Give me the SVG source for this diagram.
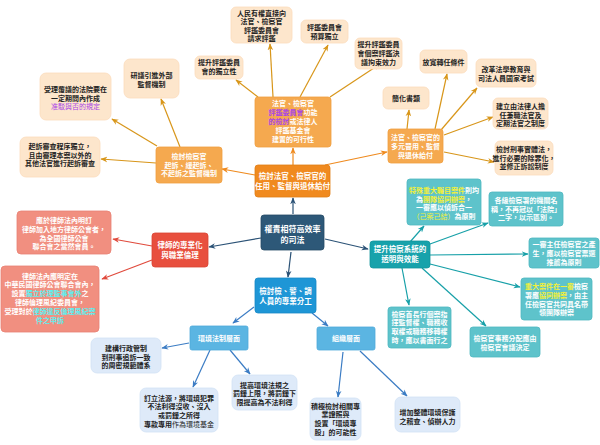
<svg xmlns="http://www.w3.org/2000/svg" width="600" height="445" viewBox="0 0 600 445">
<defs>
<style>
text{font-family:"Noto Sans CJK TC","Noto Sans CJK SC",sans-serif;font-size:7px;text-anchor:middle;font-weight:bold}
.w{fill:#fff}
.d{fill:#222}
.big{font-size:8px}
.mid{font-size:7.5px}
.peach{fill:#fde6cc;stroke:#fbdcbc;stroke-width:0.8}
.lor{fill:#f5a94f;stroke:#f0a040;stroke-width:0.8}
.or{fill:#f08a1f;stroke:#e07d15;stroke-width:0.8}
.red{fill:#e84f3e;stroke:#d94434;stroke-width:0.8}
.sal{fill:#f18f80;stroke:#e98273;stroke-width:0.8}
.teal{fill:#17a2ab;stroke:#12959d;stroke-width:0.8}
.tl{fill:#5ec3cb;stroke:#4fb7c0;stroke-width:0.8}
.blue{fill:#1e96d6;stroke:#1889c6;stroke-width:0.8}
.bs{fill:#5bb5e2;stroke:#4faada;stroke-width:0.8}
.lb{fill:#deeaf9;stroke:#d2e2f5;stroke-width:0.8}
.cen{fill:#2d5878;stroke:#244a66;stroke-width:0.8}
.pu{fill:#a845e6}
.cy{fill:#5ff0f0}
.ye{fill:#f2f03a}
.e{fill:none;stroke-width:1.2}
.en{stroke:#2b5276}
.eo{stroke:#ef8a1e}
.eg{stroke:#d8961a}
.er{stroke:#e04a3c}
.et{stroke:#17a0a8}
.eb{stroke:#3b7cc4}
</style>
<marker id="mn" viewBox="0 0 10 10" refX="9" refY="5" markerWidth="7" markerHeight="7" markerUnits="userSpaceOnUse" orient="auto"><path d="M0,1 L10,5 L0,9 L3,5 z" fill="#2b5276"/></marker>
<marker id="mo" viewBox="0 0 10 10" refX="9" refY="5" markerWidth="7" markerHeight="7" markerUnits="userSpaceOnUse" orient="auto"><path d="M0,1 L10,5 L0,9 L3,5 z" fill="#ef8a1e"/></marker>
<marker id="mg" viewBox="0 0 10 10" refX="9" refY="5" markerWidth="7" markerHeight="7" markerUnits="userSpaceOnUse" orient="auto"><path d="M0,1 L10,5 L0,9 L3,5 z" fill="#d8961a"/></marker>
<marker id="mr" viewBox="0 0 10 10" refX="9" refY="5" markerWidth="7" markerHeight="7" markerUnits="userSpaceOnUse" orient="auto"><path d="M0,1 L10,5 L0,9 L3,5 z" fill="#e04a3c"/></marker>
<marker id="mt" viewBox="0 0 10 10" refX="9" refY="5" markerWidth="7" markerHeight="7" markerUnits="userSpaceOnUse" orient="auto"><path d="M0,1 L10,5 L0,9 L3,5 z" fill="#17a0a8"/></marker>
<marker id="mb" viewBox="0 0 10 10" refX="9" refY="5" markerWidth="7" markerHeight="7" markerUnits="userSpaceOnUse" orient="auto"><path d="M0,1 L10,5 L0,9 L3,5 z" fill="#3b7cc4"/></marker>
</defs>
<rect width="600" height="445" fill="#fff"/>

<g id="connectors">
<path class="e en" d="M293,214 L293,198" marker-end="url(#mn)"/>
<path class="e en" d="M261,238 L209,247" marker-end="url(#mn)"/>
<path class="e en" d="M325,239 L368,249" marker-end="url(#mn)"/>
<path class="e en" d="M291,252 L288,277" marker-end="url(#mn)"/>
<path class="e eo" d="M255,175 L222,169" marker-end="url(#mo)"/>
<path class="e eo" d="M293,165 L293,148" marker-end="url(#mo)"/>
<path class="e eo" d="M325,165 L387,152" marker-end="url(#mo)"/>
<path class="e eg" d="M258,97 L236,80" marker-end="url(#mg)"/>
<path class="e eg" d="M273,97 L270,44" marker-end="url(#mg)"/>
<path class="e eg" d="M300,97 L328,45" marker-end="url(#mg)"/>
<path class="e eg" d="M330,97 L380,64" marker-end="url(#mg)"/>
<path class="e eg" d="M157,146 L112,119" marker-end="url(#mg)"/>
<path class="e eg" d="M180,147 L161,99" marker-end="url(#mg)"/>
<path class="e eg" d="M156,163 L101,159" marker-end="url(#mg)"/>
<path class="e eg" d="M407,129 L409,110" marker-end="url(#mg)"/>
<path class="e eg" d="M435,129 L447,74" marker-end="url(#mg)"/>
<path class="e eg" d="M441,130 L477,88" marker-end="url(#mg)"/>
<path class="e eg" d="M444,135 L493,117" marker-end="url(#mg)"/>
<path class="e eg" d="M444,152 L494,162" marker-end="url(#mg)"/>
<path class="e er" d="M152,246 L113,239" marker-end="url(#mr)"/>
<path class="e er" d="M152,260 L102,279" marker-end="url(#mr)"/>
<path class="e et" d="M410,242 L424,226" marker-end="url(#mt)"/>
<path class="e et" d="M430,244 L488,223" marker-end="url(#mt)"/>
<path class="e et" d="M430,255 L528,254" marker-end="url(#mt)"/>
<path class="e et" d="M430,264 L520,287" marker-end="url(#mt)"/>
<path class="e et" d="M402,268 L409,305" marker-end="url(#mt)"/>
<path class="e et" d="M422,268 L486,326" marker-end="url(#mt)"/>
<path class="e eb" d="M254,307 L233,323" marker-end="url(#mb)"/>
<path class="e eb" d="M312,313 L328,326" marker-end="url(#mb)"/>
<path class="e eb" d="M189,343 L162,348" marker-end="url(#mb)"/>
<path class="e eb" d="M210,350 L193,387" marker-end="url(#mb)"/>
<path class="e eb" d="M230,350 L250,374" marker-end="url(#mb)"/>
<path class="e eb" d="M343,352 L338,397" marker-end="url(#mb)"/>
<path class="e eb" d="M360,351 L407,396" marker-end="url(#mb)"/>
</g>

<g id="central"><rect class="cen" x="261" y="215" width="63" height="35" rx="3"/>
<text class="w big" x="292.5" y="232">權責相符高效率</text><text class="w big" x="292.5" y="243">的司法</text></g>

<g id="orange-main"><rect class="or" x="255" y="165" width="75" height="32" rx="3"/>
<text class="w mid" x="292.5" y="179">檢討法官、檢察官的</text><text class="w mid" x="292.5" y="189">任用、監督與退休給付</text></g>

<g id="red-main"><rect class="red" x="152" y="233" width="56" height="34" rx="3"/>
<text class="w mid" x="180" y="248">律師的專業化</text><text class="w mid" x="180" y="258">與職業倫理</text></g>

<g id="teal-main"><rect class="teal" x="370" y="241" width="60" height="27" rx="3"/>
<text class="w mid" x="400" y="252">提升檢察系統的</text><text class="w mid" x="400" y="262">透明與效能</text></g>

<g id="blue-main"><rect class="blue" x="255" y="278" width="61" height="35" rx="3"/>
<text class="w mid" x="285.5" y="294">檢討檢、警、調</text><text class="w mid" x="285.5" y="304">人員的專業分工</text></g>

<g id="prosecutor-oversight"><rect class="lor" x="156" y="147" width="66" height="36" rx="3"/>
<text class="w" x="189" y="159">檢討檢察官</text><text class="w" x="189" y="167.5">起訴、緩起訴、</text><text class="w" x="189" y="176">不起訴之監督機制</text></g>

<g id="evaluation"><rect class="lor" x="255" y="97" width="76" height="50" rx="3"/>
<text class="w" x="293" y="106">法官、檢察官</text>
<text x="293" y="115"><tspan class="pu">評鑑委員會</tspan><tspan class="w">功能</tspan></text>
<text x="293" y="124"><tspan class="pu">的檢討</tspan><tspan class="w">或法律人</tspan></text>
<text class="w" x="293" y="133">評鑑基金會</text><text class="w" x="293" y="142">建置的可行性</text></g>

<g id="recruitment"><rect class="lor" x="388" y="129" width="55" height="34" rx="3"/>
<text class="w" x="415.5" y="140">法官、檢察官的</text><text class="w" x="415.5" y="149">多元晉用、監督</text><text class="w" x="415.5" y="158">與退休給付</text></g>

<g id="leaf-review"><rect class="peach" x="40" y="73" width="71" height="47" rx="6"/>
<text class="d" x="75.5" y="92">受理覆議的法院要在</text><text class="d" x="75.5" y="100.5">一定期間內作成</text><text class="pu" x="75.5" y="109" style="font-weight:normal">准駁與否的規定</text></g>

<g id="leaf-external"><rect class="peach" x="124" y="59" width="55" height="39" rx="6"/>
<text class="d" x="151.5" y="78">研議引進外部</text><text class="d" x="151.5" y="86.5">監督機制</text></g>

<g id="leaf-indictment"><rect class="peach" x="20" y="137" width="80" height="40" rx="6"/>
<text class="d" x="60" y="149">起訴審查程序獨立，</text><text class="d" x="60" y="157.5">且由審理本案以外的</text><text class="d" x="60" y="166">其他法官進行起訴審查</text></g>

<g id="leaf-indep"><rect class="peach" x="195" y="56" width="48" height="23" rx="5"/>
<text class="d" x="219" y="65">提升評鑑委員</text><text class="d" x="219" y="74">會的獨立性</text></g>

<g id="leaf-people"><rect class="peach" x="231" y="7" width="61" height="36" rx="5"/>
<text class="d" x="261.5" y="15.5">人民有權直接向</text><text class="d" x="261.5" y="24">法官、檢察官</text><text class="d" x="261.5" y="32.6">評鑑委員會</text><text class="d" x="261.5" y="41.2">請求評鑑</text></g>

<g id="leaf-budget"><rect class="peach" x="301" y="20" width="47" height="23" rx="5"/>
<text class="d" x="324.5" y="30">評鑑委員會</text><text class="d" x="324.5" y="38.5">預算獨立</text></g>

<g id="leaf-binding"><rect class="peach" x="355" y="38" width="47" height="31" rx="5"/>
<text class="d" x="378.5" y="47">提升評鑑委員</text><text class="d" x="378.5" y="56">會個案評鑑決</text><text class="d" x="378.5" y="65">議拘束效力</text></g>

<g id="leaf-simplify"><rect class="peach" x="383" y="87" width="46" height="22" rx="5"/>
<text class="d" x="406" y="100.5">簡化書類</text></g>

<g id="leaf-transfer"><rect class="peach" x="420" y="50" width="47" height="23" rx="5"/>
<text class="d" x="443.5" y="64.5">放寬轉任條件</text></g>

<g id="leaf-education"><rect class="peach" x="476" y="59" width="60" height="28" rx="5"/>
<text class="d" x="506" y="72">改革法學教育與</text><text class="d" x="506" y="81">司法人員國家考試</text></g>

<g id="leaf-parttime"><rect class="peach" x="493" y="98" width="55" height="31" rx="5"/>
<text class="d" x="520.5" y="109">建立由法律人擔</text><text class="d" x="520.5" y="117.5">任兼職法官及</text><text class="d" x="520.5" y="126">定期法官之制度</text></g>

<g id="leaf-criminal"><rect class="peach" x="495" y="141" width="58" height="34" rx="5"/>
<text class="d" x="524" y="152">檢討刑事實體法，</text><text class="d" x="524" y="160.5">進行必要的除罪化，</text><text class="d" x="524" y="169">並修正訴訟制度</text></g>

<g id="leaf-bar-member"><rect class="sal" x="17" y="211" width="94" height="43" rx="4"/>
<text class="w" x="64" y="223">應於律師法內明訂</text><text class="w" x="64" y="232">律師加入地方律師公會者，</text><text class="w" x="64" y="240.7">為全國律師公會</text><text class="w" x="64" y="249.4">聯合會之當然會員。</text></g>

<g id="leaf-bar-ethics"><rect class="sal" x="1" y="266" width="98" height="66" rx="4"/>
<text class="w" x="50" y="278.5">律師法內應明定在</text><text class="w" x="50" y="287.3">中華民國律師公會聯合會內，</text>
<text x="50" y="296.1"><tspan class="w">設置</tspan><tspan class="cy">獨立於理監事會外</tspan><tspan class="w">之</tspan></text>
<text class="w" x="50" y="304.9">律師倫理風紀委員會，</text>
<text x="50" y="313.7"><tspan class="w">受理對於</tspan><tspan class="cy">律師違反倫理風紀案</tspan></text>
<text class="cy" x="50" y="322.5">件之申訴</text></g>

<g id="leaf-team"><rect class="tl" x="407" y="179" width="74" height="46" rx="3"/>
<text x="444" y="193"><tspan class="ye">特殊重大矚目案件</tspan><tspan class="w">則均</tspan></text>
<text x="444" y="201.6"><tspan class="w">為</tspan><tspan class="ye">團隊協同辦案</tspan><tspan class="w">，</tspan></text>
<text class="w" x="444" y="210.2">一審應以偵訴合一</text>
<text x="444" y="219"><tspan class="ye" style="font-weight:normal">（己案己結）</tspan><tspan class="w">為原則</tspan></text></g>

<g id="leaf-name"><rect class="tl" x="489" y="192" width="74" height="34" rx="3"/>
<text class="w" x="526" y="203">各級檢察署的機關名</text><text class="w" x="526" y="211.6">稱，不再冠以「法院」</text><text class="w" x="526" y="220.2">二字，以示區別。</text></g>

<g id="leaf-chief"><rect class="tl" x="529" y="238" width="70" height="30" rx="3"/>
<text class="w" x="564" y="247">一審主任檢察官之產</text><text class="w" x="564" y="256">生，應以檢察官票選</text><text class="w" x="564" y="265">推薦為原則</text></g>

<g id="leaf-major"><rect class="tl" x="521" y="278" width="71" height="42" rx="3"/>
<text x="556.5" y="289"><tspan class="ye">重大案件在一審</tspan><tspan class="w">檢察</tspan></text>
<text x="556.5" y="297.8"><tspan class="w">署應</tspan><tspan class="ye">協同辦案</tspan><tspan class="w">，由主</tspan></text>
<text class="w" x="556.5" y="306.6">任檢察官共同具名帶</text><text class="w" x="556.5" y="315.4">領團隊辦案</text></g>

<g id="leaf-written"><rect class="tl" x="388" y="307" width="63" height="41" rx="3"/>
<text class="w" x="419.5" y="316.5">檢察首長行個案指</text><text class="w" x="419.5" y="325.2">揮監督權、職務收</text><text class="w" x="419.5" y="333.9">取權或職務移轉權</text><text class="w" x="419.5" y="342.6">時，應以書面行之</text></g>

<g id="leaf-assign"><rect class="tl" x="470" y="327" width="70" height="30" rx="3"/>
<text class="w" x="505" y="341">檢察官事務分配應由</text><text class="w" x="505" y="350">檢察官會議決定</text></g>

<g id="env-law"><rect class="bs" x="190" y="326" width="58" height="24" rx="2"/>
<text class="w" x="219" y="341">環境法制層面</text></g>

<g id="org"><rect class="bs" x="317" y="327" width="58" height="23" rx="2"/>
<text class="w" x="346" y="341">組織層面</text></g>

<g id="leaf-system"><rect class="lb" x="91" y="338" width="70" height="35" rx="6"/>
<text class="d" x="126" y="351">建構行政管制</text><text class="d" x="126" y="359.6">到刑事追訴一致</text><text class="d" x="126" y="368.2">的周密規範體系</text></g>

<g id="leaf-fund"><rect class="lb" x="140" y="388" width="78" height="44" rx="6"/>
<text class="d" x="179" y="400.5">訂立法源，將環境犯罪</text><text class="d" x="179" y="409.2">不法利得沒收、沒入</text><text class="d" x="179" y="417.9">或罰鍰之所得</text>
<text x="179" y="426.6"><tspan class="d">專款專用</tspan><tspan class="d" style="font-weight:normal">作為環境基金</tspan></text></g>

<g id="leaf-fine"><rect class="lb" x="232" y="375" width="65" height="35" rx="6"/>
<text class="d" x="264.5" y="387.5">提高環境法規之</text><text class="d" x="264.5" y="396.2">罰鍰上限，將罰鍰下</text><text class="d" x="264.5" y="404.9">限提高為不法利得</text></g>

<g id="leaf-court"><rect class="lb" x="310" y="398" width="51" height="42" rx="6"/>
<text class="d" x="335.5" y="408.5">積極檢討相關專</text><text class="d" x="335.5" y="417.2">業證照與</text><text class="d" x="335.5" y="425.9">設置「環境專</text><text class="d" x="335.5" y="434.6">股」的可能性</text></g>

<g id="leaf-staff"><rect class="lb" x="395" y="397" width="65" height="35" rx="6"/>
<text class="d" x="427.5" y="415">增加整體環境保護</text><text class="d" x="427.5" y="423.6">之稽查、偵辦人力</text></g>
</svg>
